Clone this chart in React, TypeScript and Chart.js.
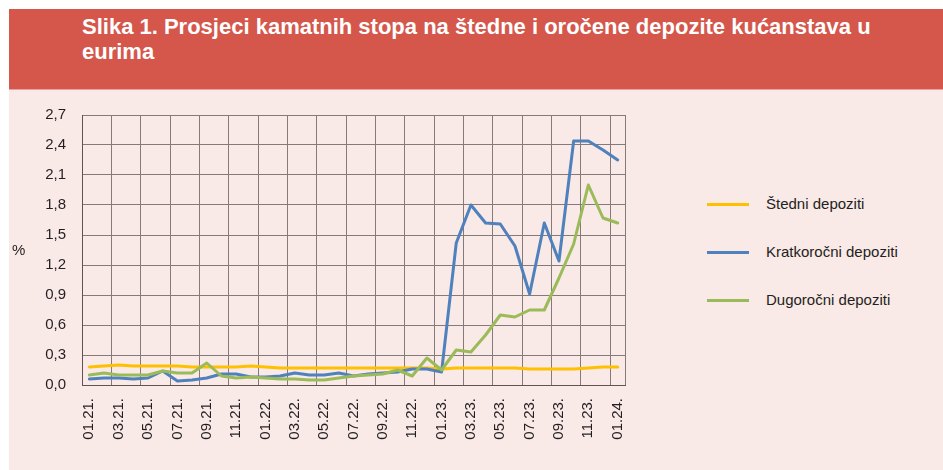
import React, { useEffect, useRef } from "react";
import { Chart, registerables } from "chart.js";

Chart.register(...registerables);

const TITLE_LINE_1 = "Slika 1. Prosjeci kamatnih stopa na štedne i oročene depozite kućanstava u";
const TITLE_LINE_2 = "eurima";

const months: string[] = [
  "01.21.", "02.21.", "03.21.", "04.21.", "05.21.", "06.21.", "07.21.", "08.21.", "09.21.", "10.21.", "11.21.", "12.21.",
  "01.22.", "02.22.", "03.22.", "04.22.", "05.22.", "06.22.", "07.22.", "08.22.", "09.22.", "10.22.", "11.22.", "12.22.",
  "01.23.", "02.23.", "03.23.", "04.23.", "05.23.", "06.23.", "07.23.", "08.23.", "09.23.", "10.23.", "11.23.", "12.23.",
  "01.24.",
];

const stedni: number[] = [
  0.18, 0.19, 0.2, 0.19, 0.19, 0.19, 0.19, 0.18, 0.18, 0.18, 0.18, 0.19,
  0.18, 0.17, 0.17, 0.17, 0.17, 0.17, 0.17, 0.17, 0.17, 0.17, 0.17, 0.17,
  0.16, 0.17, 0.17, 0.17, 0.17, 0.17, 0.16, 0.16, 0.16, 0.16, 0.17, 0.18,
  0.18,
];

const kratkorocni: number[] = [
  0.06, 0.07, 0.07, 0.06, 0.07, 0.14, 0.04, 0.05, 0.07, 0.11, 0.11, 0.08,
  0.08, 0.09, 0.12, 0.1, 0.1, 0.12, 0.09, 0.11, 0.12, 0.13, 0.16, 0.16,
  0.13, 1.42, 1.8, 1.62, 1.61, 1.39, 0.91, 1.62, 1.24, 2.44, 2.44, 2.35,
  2.25,
];

const dugorocni: number[] = [
  0.1, 0.12, 0.1, 0.1, 0.1, 0.14, 0.12, 0.12, 0.22, 0.09, 0.07, 0.08,
  0.07, 0.06, 0.06, 0.05, 0.05, 0.07, 0.09, 0.1, 0.11, 0.15, 0.09, 0.27,
  0.15, 0.35, 0.33, 0.5, 0.7, 0.68, 0.75, 0.75, 1.07, 1.41, 2.0, 1.67,
  1.62,
];

const seriesNames: string[] = ["Štedni depoziti", "Kratkoročni depoziti", "Dugoročni depoziti"];
const seriesColors: string[] = ["#ffc000", "#4f81bd", "#9bbb59"];

const yMin = 0;
const yMax = 2.7;
const yStep = 0.3;

const FONT = '"Liberation Sans", Arial, sans-serif';
const TEXT = "#231f20";
const GRID = "#857a7a";
const BORDER = "#5e5454";

export default function App() {
  const canvasRef = useRef<HTMLCanvasElement | null>(null);

  useEffect(() => {
    const canvas = canvasRef.current;
    if (!canvas) return;
    const chart = new Chart(canvas, {
      type: "line",
      data: {
        labels: months,
        datasets: [
          { label: seriesNames[0], data: stedni, borderColor: seriesColors[0], order: 2 },
          { label: seriesNames[1], data: kratkorocni, borderColor: seriesColors[1], order: 1 },
          { label: seriesNames[2], data: dugorocni, borderColor: seriesColors[2], order: 0 },
        ].map((d) => ({
          ...d,
          backgroundColor: d.borderColor,
          borderWidth: 3,
          pointRadius: 0,
          pointHoverRadius: 0,
          tension: 0,
          fill: false,
          borderJoinStyle: "round" as const,
          borderCapStyle: "round" as const,
        })),
      },
      options: {
        animation: false,
        responsive: false,
        maintainAspectRatio: false,
        layout: { padding: { top: 26, right: 23, left: 0, bottom: 0 } },
        plugins: {
          legend: { display: false },
          tooltip: { enabled: false },
          title: { display: false },
        },
        scales: {
          x: {
            type: "category",
            offset: true,
            grid: {
              offset: true,
              drawTicks: false,
              color: (ctx: any) =>
                ctx.index === undefined || ctx.index % 2 === 0 ? GRID : "rgba(0,0,0,0)",
              lineWidth: 1,
            },
            border: { display: true, color: BORDER, width: 1 },
            ticks: {
              autoSkip: false,
              minRotation: 90,
              maxRotation: 90,
              padding: 13,
              color: TEXT,
              font: { family: FONT, size: 15 },
              callback: (_v: any, idx: number) => (idx % 2 === 0 ? months[idx] : ""),
            },
            afterFit: (s: any) => {
              s.height = 85;
            },
          },
          y: {
            min: yMin,
            max: yMax,
            grid: { drawTicks: false, color: GRID, lineWidth: 1 },
            border: { display: true, color: BORDER, width: 1 },
            ticks: {
              stepSize: yStep,
              padding: 16,
              color: TEXT,
              font: { family: FONT, size: 15 },
              callback: (v: any) => Number(v).toFixed(1).replace(".", ","),
            },
            afterFit: (s: any) => {
              s.width = 73;
            },
          },
        },
      },
    });
    return () => chart.destroy();
  }, []);

  return (
    <div
      style={{
        position: "absolute",
        left: 0,
        top: 0,
        width: 943,
        height: 470,
        background: "#ffffff",
        overflow: "hidden",
        fontFamily: FONT,
      }}
    >
      <div style={{ position: "absolute", left: 9, top: 9, width: 934, height: 80, background: "#d5574b" }} />
      <div style={{ position: "absolute", left: 9, top: 89, width: 934, height: 1, background: "#e9a39a" }} />
      <div style={{ position: "absolute", left: 9, top: 90, width: 934, height: 380, background: "#f9e9e7" }} />
      <div
        style={{
          position: "absolute",
          left: 82,
          top: 14,
          color: "#ffffff",
          fontWeight: "bold",
          fontSize: 22,
          lineHeight: "25px",
          whiteSpace: "nowrap",
        }}
      >
        {TITLE_LINE_1}
        <br />
        {TITLE_LINE_2}
      </div>
      <canvas
        ref={canvasRef}
        width={640}
        height={381}
        style={{ position: "absolute", left: 9, top: 89, width: 640, height: 381 }}
      />
      <div
        style={{
          position: "absolute",
          left: 12,
          top: 241,
          fontSize: 15,
          lineHeight: "18px",
          color: TEXT,
        }}
      >
        %
      </div>
      {seriesNames.map((name, i) => (
        <div key={name}>
          <div
            style={{
              position: "absolute",
              left: 707,
              top: 203 + i * 48 - 0.5,
              width: 42,
              height: 3,
              background: seriesColors[i],
            }}
          />
          <div
            style={{
              position: "absolute",
              left: 766,
              top: 195 + i * 48,
              fontSize: 15,
              lineHeight: "18px",
              color: TEXT,
              whiteSpace: "nowrap",
            }}
          >
            {name}
          </div>
        </div>
      ))}
    </div>
  );
}
